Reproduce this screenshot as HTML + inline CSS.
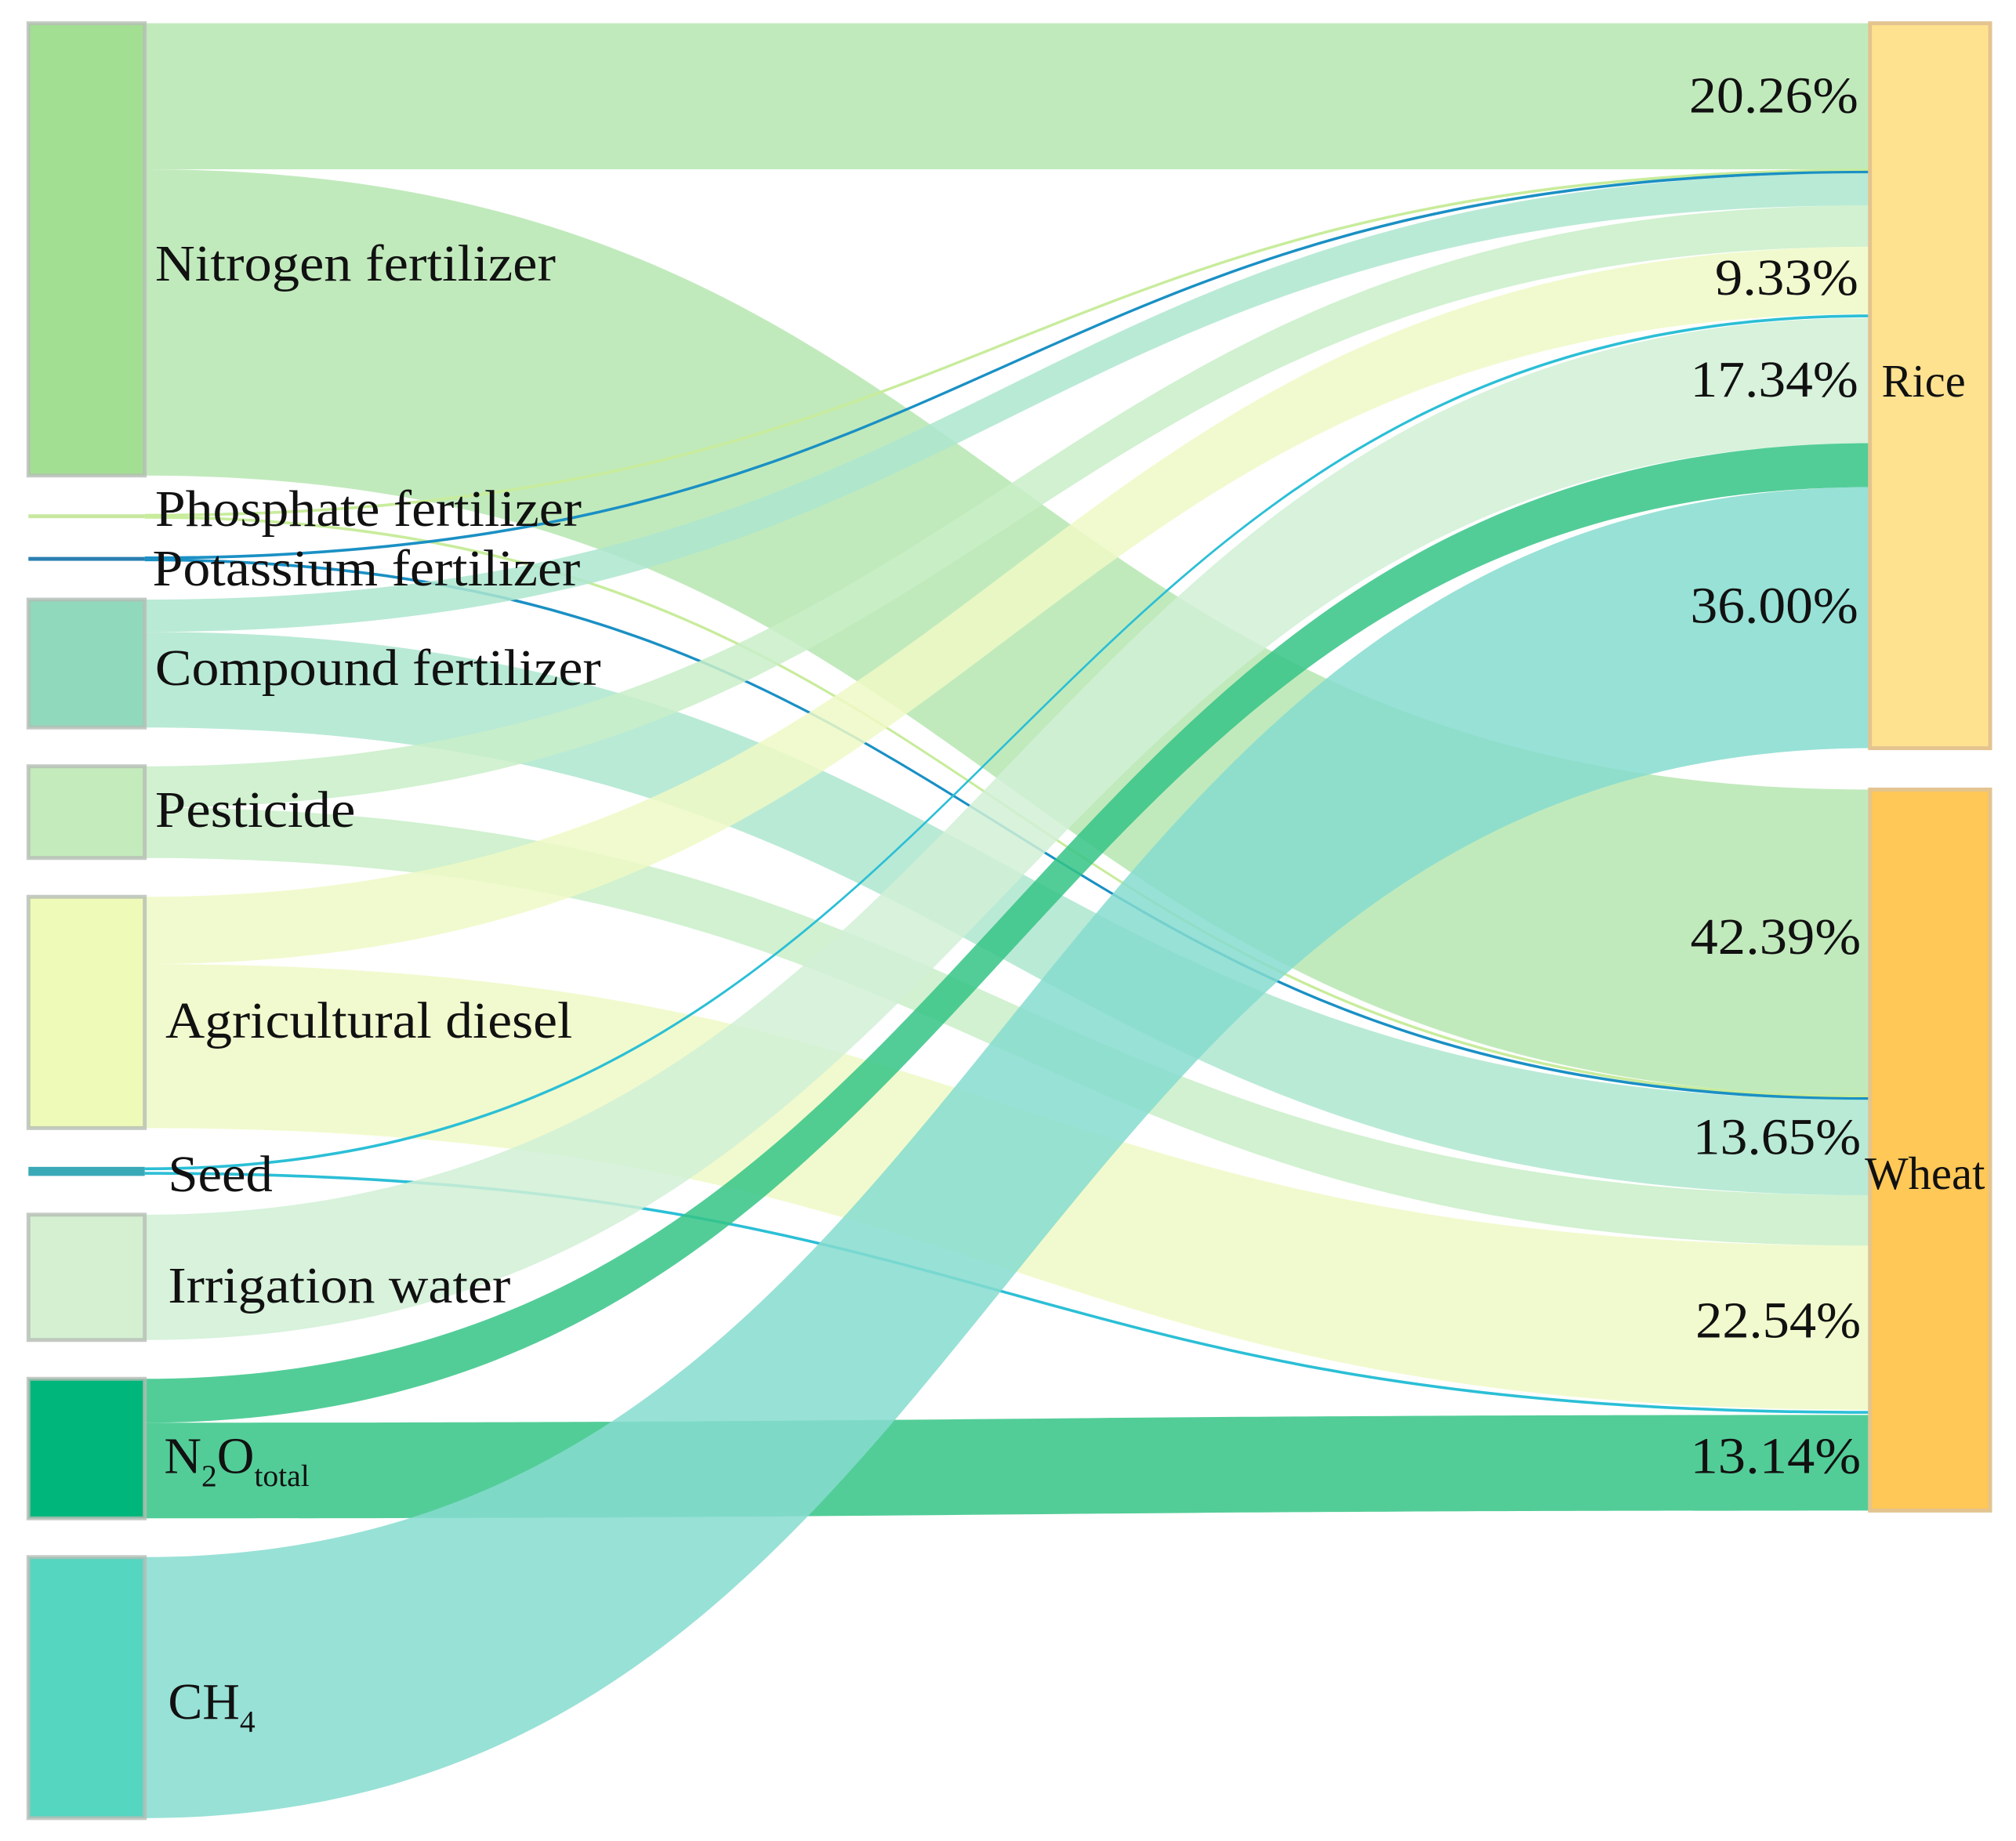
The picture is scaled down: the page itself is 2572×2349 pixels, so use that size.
<!DOCTYPE html>
<html>
<head>
<meta charset="utf-8">
<style>
  html,body{margin:0;padding:0;background:#fff;}
  svg{display:block;}
</style>
</head>
<body>
<svg id="chart" width="2572" height="2349" viewBox="0 0 1560 1424.7" preserveAspectRatio="none" xmlns="http://www.w3.org/2000/svg" font-family="'Liberation Serif', serif">
  <g id="links"></g>
  <g id="nodes"></g>
  <g id="labels" fill="#111" font-family="'Liberation Serif', serif"></g>
</svg>
<script>
const sourceNames = ["Nitrogen fertilizer","Phosphate fertilizer","Potassium fertilizer","Compound fertilizer","Pesticide","Agricultural diesel","Seed","Irrigation water","N2O","CH4"];
const targetNames = ["Rice","Wheat"];
const riceValues  = [113, 1.5, 1.5, 25, 32, 52, 3, 97, 34, 202];
const wheatValues = [237, 1.5, 1.5, 74, 39, 127, 4, 0, 74, 0];
const ricePercentLabels  = ["20.26%","9.33%","17.34%","36.00%"];
const wheatPercentLabels = ["42.39%","13.65%","22.54%","13.14%"];

const nodeFill   = ["#a3df93","#c8e8a0","#2a7fb0","#90d9bd","#c4ebbb","#eefab8","#3aa9b7","#d4f0d1","#00b67a","#55d6c0"];
const linkFill   = ["#b6e6b0","#c8ec9c","#1a90c4","#ade6cf","#c9eec8","#eef9c6","#2bbfd6","#d1f0d6","#35c486","#86dccf"];
const targetFill = ["#ffe290","#ffc857"];

const svgNS="http://www.w3.org/2000/svg";
const X0=22, X1=112, XR0=1447, XR1=1540, TOP=18, GAP=30;
function mk(tag,attrs,parent){const e=document.createElementNS(svgNS,tag);for(const k in attrs)e.setAttribute(k,attrs[k]);parent.appendChild(e);return e;}
const gL=document.getElementById('links'), gN=document.getElementById('nodes'), gT=document.getElementById('labels');

const srcY=[];let y=TOP;
for(let i=0;i<sourceNames.length;i++){const h=riceValues[i]+wheatValues[i];srcY.push([y,y+h]);y+=h+GAP;}
const riceTotal=riceValues.reduce((a,b)=>a+b,0), wheatTotal=wheatValues.reduce((a,b)=>a+b,0);
const tgtY=[[TOP,TOP+riceTotal],[TOP+riceTotal+32,TOP+riceTotal+32+wheatTotal]];

function band(x0,a0,b0,x1,a1,b1){
  const xm=(x0+x1)/2;
  return `M${x0},${a0} C${xm},${a0} ${xm},${a1} ${x1},${a1} L${x1},${b1} C${xm},${b1} ${xm},${b0} ${x0},${b0} Z`;
}
let rOff=tgtY[0][0], wOff=tgtY[1][0];
const linkSpecs=[];
for(let i=0;i<sourceNames.length;i++){
  let s=srcY[i][0];
  const rv=riceValues[i], wv=wheatValues[i];
  if(rv>0){linkSpecs.push({i,t:0,s0:s,s1:s+rv,t0:rOff,t1:rOff+rv});s+=rv;rOff+=rv;}
  if(wv>0){linkSpecs.push({i,t:1,s0:s,s1:s+wv,t0:wOff,t1:wOff+wv});s+=wv;wOff+=wv;}
}
for(const L of linkSpecs){
  const thin=(L.s1-L.s0)<5;
  let a0=L.s0,b0=L.s1,a1=L.t0,b1=L.t1;
  if(thin){const m0=(a0+b0)/2,m1=(a1+b1)/2,w=1.1;a0=m0-w;b0=m0+w;a1=m1-w;b1=m1+w;}
  const p=mk('path',{d:band(X1,a0,b0,XR0,a1,b1),fill:linkFill[L.i],'fill-opacity':thin?1:0.85},gL);
  
  
}
for(let i=0;i<sourceNames.length;i++){
  const h=Math.max(srcY[i][1]-srcY[i][0],2);
  const r=mk('rect',{x:X0,y:srcY[i][0],width:X1-X0,height:h,fill:nodeFill[i],stroke:h>10?'#b5bdb5':'none','stroke-width':h>10?3:0,'stroke-opacity':0.8},gN);
  
  
}
for(let t=0;t<2;t++){
  const r=mk('rect',{x:XR0,y:tgtY[t][0],width:XR1-XR0,height:tgtY[t][1]-tgtY[t][0],fill:targetFill[t],stroke:'#e3c490','stroke-width':3},gN);
  
  
}

const FF="'Liberation Serif', serif";
function txt(t,x,yy,size,len,anchor){
  const a={x:x,y:yy,'font-size':size,'font-family':FF,fill:'#111'};
  if(len){a.textLength=len;a.lengthAdjust='spacingAndGlyphs';}
  if(anchor)a['text-anchor']=anchor;
  const e=mk('text',a,gT);e.textContent=t;return e;
}
const labelSpecs=[
 ["Nitrogen fertilizer",120,217,310],["Phosphate fertilizer",120,407,330],["Potassium fertilizer",118,453,331],
 ["Compound fertilizer",120,530,345],["Pesticide",120,640,155],["Agricultural diesel",128,803,315],
 ["Seed",130,922,81],["Irrigation water",130,1008,265]
];
for(const [t,x,yy,len] of labelSpecs){
  const e=txt(t,x,yy,40,len);
  
  
}
const n2o=mk('text',{x:127,y:1140,'font-size':40,'font-family':FF,fill:'#111'},gT);


n2o.innerHTML='N<tspan font-size="24" dy="10">2</tspan><tspan dy="-10">O</tspan><tspan font-size="24" dy="10">total</tspan>';
const ch4=mk('text',{x:130,y:1330,'font-size':40,'font-family':FF,fill:'#111'},gT);


ch4.innerHTML='CH<tspan font-size="24" dy="10">4</tspan>';
const pctY=[87,228,307,482];
const pctX=[1307,1327,1308,1308];
ricePercentLabels.forEach((t,k)=>{const e=txt(t,pctX[k],pctY[k],40,1438-pctX[k]);
 
 });
const pctYW=[738,893,1035,1140];
const pctXW=[1308,1310,1312,1308];
wheatPercentLabels.forEach((t,k)=>{const e=txt(t,pctXW[k],pctYW[k],40,1440-pctXW[k]);
 
 });
const rl=txt("Rice",1456,307,36,65);


const wl=txt("Wheat",1443,920,36,93);


</script>
</body>
</html>
